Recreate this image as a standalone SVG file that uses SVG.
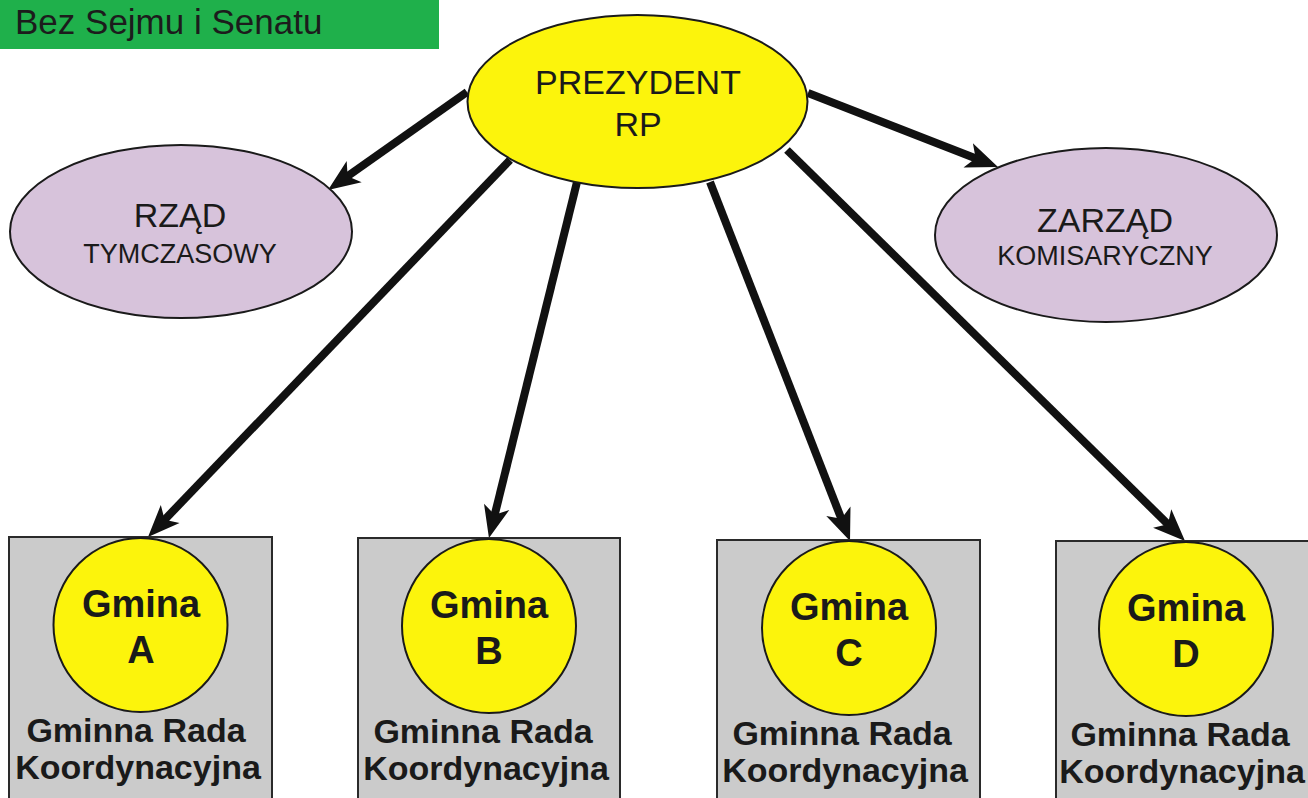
<svg xmlns="http://www.w3.org/2000/svg" width="1308" height="798" viewBox="0 0 1308 798">
<style>
text{font-family:"Liberation Sans",Arial,sans-serif;fill:#1a1a1a;text-anchor:middle}
.banner{fill:#1fb04b}
.btxt{font-size:35px;text-anchor:start;fill:#1c1c1c}
.pres{fill:#fcf40c;stroke:#1a1a1a;stroke-width:2}
.lav{fill:#d7c3db;stroke:#1a1a1a;stroke-width:2}
.box{fill:#cbcbcb;stroke:#2a2a2a;stroke-width:2}
.circ{fill:#fcf40c;stroke:#1a1a1a;stroke-width:2}
.big{font-size:34px}
.small{font-size:27px}
.g{font-size:38px;font-weight:bold}
.r{font-size:34px;font-weight:bold}
.conn{stroke:#111;stroke-width:8;fill:none;marker-end:url(#ah)}
</style>
<defs>
<marker id="ah" markerUnits="userSpaceOnUse" viewBox="-34 -15 36 30" refX="-16" refY="0" markerWidth="36" markerHeight="30" orient="auto">
<path d="M0,0 L-32,-13 L-24,0 L-32,13 Z" fill="#111"/>
</marker>
</defs>
<rect width="1308" height="798" fill="#ffffff"/>
<g id="banner">
<rect class="banner" x="0" y="0" width="439" height="49"/>
<text class="btxt" x="15" y="34">Bez Sejmu i Senatu</text>
</g>
<g id="connectors">
<path class="conn" d="M467,92 L341.1,180.8"/>
<path class="conn" d="M808,93 L983.1,161.2"/>
<path class="conn" d="M510,160 L159.1,525.5"/>
<path class="conn" d="M577,182 L492.8,522.5"/>
<path class="conn" d="M710,182 L844.2,526.1"/>
<path class="conn" d="M787,150 L1173.6,529.8"/>
</g>
<g id="prezydent">
<ellipse class="pres" cx="637.5" cy="101.5" rx="170" ry="86.5"/>
<text class="big" x="638" y="94">PREZYDENT</text>
<text class="big" x="638" y="136">RP</text>
</g>
<g id="rzad">
<ellipse class="lav" cx="181" cy="231.5" rx="171" ry="86.5"/>
<text class="big" x="180" y="227">RZĄD</text>
<text class="small" x="180" y="263">TYMCZASOWY</text>
</g>
<g id="zarzad">
<ellipse class="lav" cx="1106" cy="235" rx="171" ry="87"/>
<text class="big" x="1105" y="232">ZARZĄD</text>
<text class="small" x="1105" y="265">KOMISARYCZNY</text>
</g>
<g id="gmina-a">
<rect class="box" x="9" y="537" width="263" height="270"/>
<circle class="circ" cx="140.5" cy="625" r="87"/>
<text class="g" x="141" y="617">Gmina</text>
<text class="g" x="141" y="663">A</text>
<text class="r" x="136" y="742">Gminna Rada</text>
<text class="r" x="138" y="779">Koordynacyjna</text>
</g>
<g id="gmina-b">
<rect class="box" x="358" y="538" width="262" height="270"/>
<circle class="circ" cx="489" cy="626" r="87"/>
<text class="g" x="489" y="618">Gmina</text>
<text class="g" x="489" y="664">B</text>
<text class="r" x="483" y="743">Gminna Rada</text>
<text class="r" x="486" y="780">Koordynacyjna</text>
</g>
<g id="gmina-c">
<rect class="box" x="717" y="540" width="263" height="270"/>
<circle class="circ" cx="849" cy="628" r="87"/>
<text class="g" x="849" y="620">Gmina</text>
<text class="g" x="849" y="666">C</text>
<text class="r" x="842" y="745">Gminna Rada</text>
<text class="r" x="845" y="782">Koordynacyjna</text>
</g>
<g id="gmina-d">
<rect class="box" x="1056" y="541" width="262" height="270"/>
<circle class="circ" cx="1186" cy="629" r="87"/>
<text class="g" x="1186" y="621">Gmina</text>
<text class="g" x="1186" y="667">D</text>
<text class="r" x="1180" y="746">Gminna Rada</text>
<text class="r" x="1182" y="783">Koordynacyjna</text>
</g>
</svg>
